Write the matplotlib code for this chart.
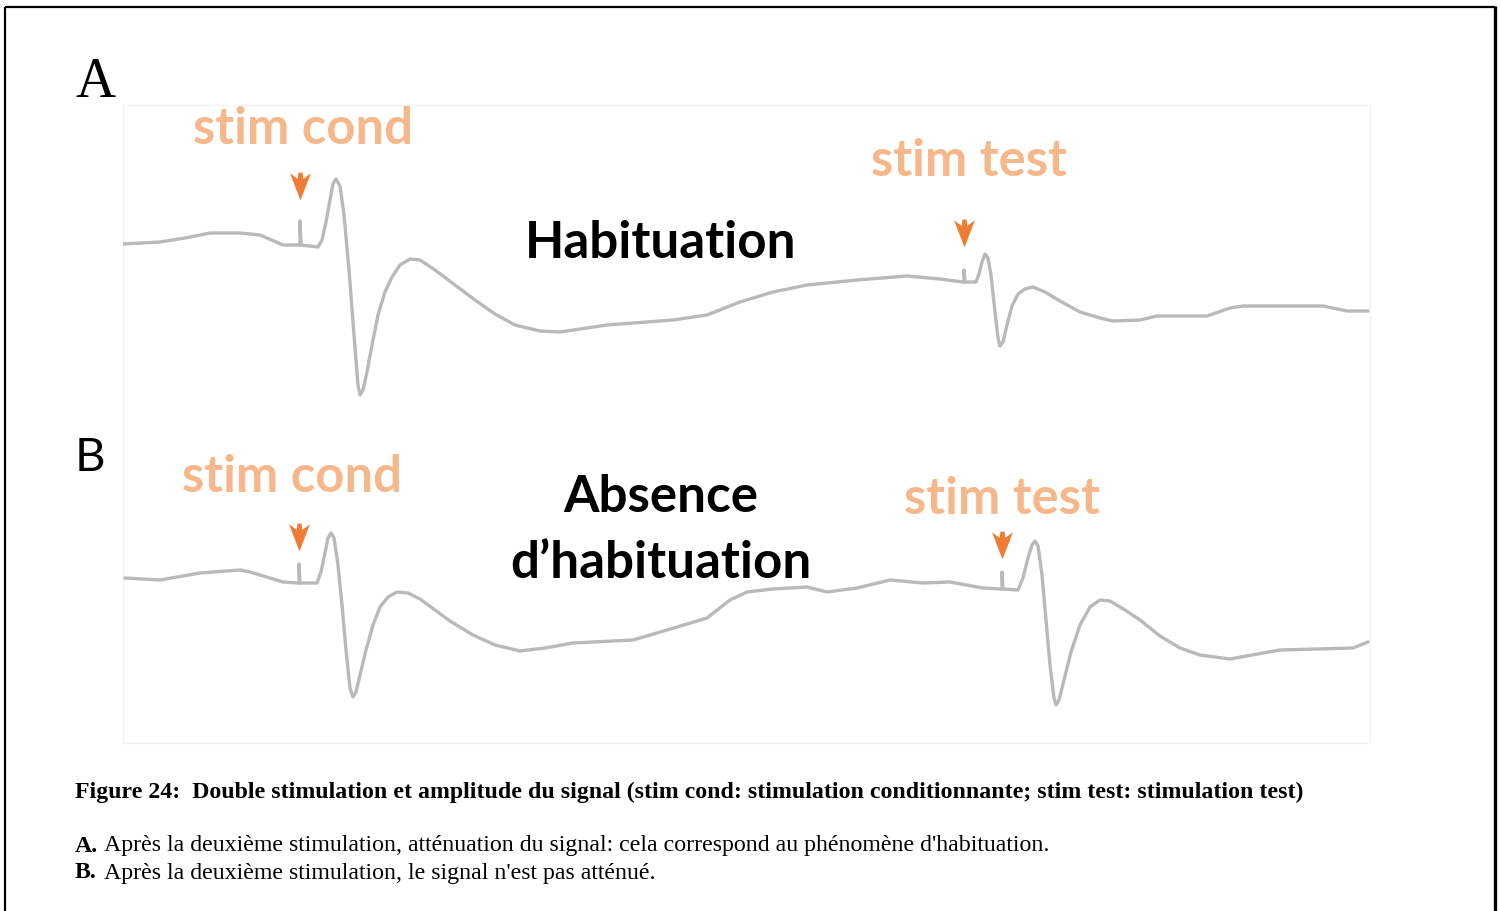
import matplotlib
matplotlib.use("Agg")
import matplotlib.pyplot as plt
from matplotlib.patches import Rectangle

# ---------------- data (time in ms, amplitude in arbitrary units) ----------------
t_A = [0, 3.7, 6.2, 8.7, 11.7, 13.7, 16.0, 17.6, 17.7, 17.7, 17.8, 19.5, 19.9, 20.3,
       20.7, 21.0, 21.3, 21.7, 22.1, 22.6, 23.1, 23.5, 23.7, 24.0, 24.4, 24.9, 25.5,
       26.2, 26.9, 27.7, 28.7, 29.7, 31.2, 33.2, 35.2, 37.2, 39.2, 41.7, 43.7, 48.4,
       55.0, 58.4, 61.7, 65.0, 68.4, 73.4, 78.4, 81.7, 84.0, 84.1, 84.1, 84.2, 85.3,
       85.6, 85.9, 86.2, 86.5, 86.8, 87.2, 87.5, 87.7, 88.0, 88.4, 88.9, 89.5, 90.2,
       91.0, 92.2, 93.7, 95.7, 97.7, 99.0, 101.7, 103.4, 108.4, 110.7, 112.0, 120.0,
       122.4, 124.5]
v_A = [0, 0.2, 0.6, 1.1, 1.1, 0.9, -0.1, -0.1, -0.1, 2.3, -0.1, -0.3, 0.4, 2.2,
       4.4, 6.0, 6.5, 5.8, 2.9, -2.6, -9.1, -14.1, -15.1, -14.6, -12.8, -10.1, -7.1,
       -4.8, -3.3, -2.1, -1.5, -1.6, -2.6, -4.1, -5.6, -7.0, -8.1, -8.7, -8.8, -8.1,
       -7.6, -7.1, -5.8, -4.8, -4.1, -3.6, -3.2, -3.5, -3.8, -3.8, -2.6, -3.8, -3.8,
       -3.0, -1.8, -1.0, -1.4, -3.1, -6.8, -9.4, -10.2, -9.8, -8.1, -6.2, -5.0, -4.5,
       -4.3, -4.8, -5.7, -6.8, -7.4, -7.7, -7.6, -7.2, -7.2, -6.4, -6.2, -6.2,
       -6.7, -6.7]

t_B = [0.2, 3.7, 7.7, 11.7, 12.7, 16.0, 17.5, 17.6, 17.6, 17.7, 19.4, 19.8, 20.2,
       20.5, 20.8, 21.1, 21.5, 21.9, 22.3, 22.7, 23.0, 23.3, 23.7, 24.3, 25.0, 25.7,
       26.5, 27.4, 28.5, 29.7, 31.2, 32.7, 35.0, 37.2, 39.7, 42.2, 45.0, 51.0, 53.4,
       58.4, 60.7, 62.4, 65.0, 68.4, 70.4, 73.4, 76.7, 80.0, 82.7, 86.0, 87.8, 87.9,
       87.9, 88.0, 89.5, 90.0, 90.5, 90.9, 91.2, 91.5, 91.9, 92.3, 92.7, 93.1, 93.3,
       93.6, 94.1, 94.8, 95.7, 96.7, 97.7, 98.7, 100.2, 101.7, 103.7, 105.7, 107.7,
       110.7, 115.7, 123.0, 124.5]
v_B = [0.2, 0.0, 0.7, 1.0, 0.8, -0.2, -0.3, -0.3, 1.6, -0.3, -0.3, 0.8, 2.7,
       4.2, 4.7, 4.2, 1.5, -2.5, -7.0, -10.8, -11.7, -11.2, -9.5, -7.0, -4.5, -2.7,
       -1.7, -1.2, -1.3, -1.9, -3.0, -4.1, -5.5, -6.5, -7.1, -6.8, -6.3, -6.0, -5.3,
       -3.8, -2.0, -1.2, -0.9, -0.7, -1.2, -0.8, 0.0, -0.3, -0.2, -0.8, -0.9, -0.9,
       0.8, -0.9, -1.0, 0.2, 2.2, 3.5, 3.9, 3.4, 0.5, -4.0, -8.5, -11.8, -12.5,
       -12.0, -10.0, -7.2, -4.5, -2.7, -2.0, -2.1, -3.0, -4.0, -5.6, -6.8, -7.5,
       -7.9, -7.0, -6.8, -6.2]

stim_t_A = [17.7, 84.1]
stim_v_A = [5.8, 1.1]
stim_t_B = [17.6, 87.9]
stim_v_B = [4.3, 3.5]

panel_labels = ["A", "B"]
stim_labels = ["stim cond", "stim test"]
caption_title = ("Figure 24:  Double stimulation et amplitude du signal (stim cond: "
                 "stimulation conditionnante; stim test: stimulation test)")
caption_A = "Après la deuxième stimulation, atténuation du signal: cela correspond au phénomène d'habituation."
caption_B = "Après la deuxième stimulation, le signal n'est pas atténué."

# ---------------- styling ----------------
W, H = 1501, 911
TRACE = "#B9B9B9"
PEACH = "#F6B88A"
ORANGE = "#EF7B35"
SANS = "Lato"
SERIF = "Liberation Serif"
STIM_FS = 36.5
BIG_FS = 36.8
CAP_FS = 17.2

arrow_marker = [(-0.75, 0.95), (-0.2, 0.55), (-0.15, 1.0), (0.15, 1.0), (0.2, 0.55),
                (0.75, 0.95), (0.0, -1.0), (-0.75, 0.95)]

fig = plt.figure(figsize=(W / 100, H / 100), dpi=100)
fig.patch.set_facecolor("white")

ax0 = fig.add_axes([0, 0, 1, 1])
ax0.set_xlim(0, W)
ax0.set_ylim(H, 0)
ax0.axis("off")

# outer frame (bottom edge outside the picture)
ax0.plot([5, 5], [920, 7], color="black", lw=1.6, solid_capstyle="butt")
ax0.plot([4.5, 1495], [7, 7], color="black", lw=1.6, solid_capstyle="butt")
ax0.plot([1495, 1495], [6, 920], color="black", lw=2.4, solid_capstyle="butt")

# faint image box
ax0.add_patch(Rectangle((123, 105), 1247, 638, fill=False, edgecolor="#F3F3F3", lw=1))


def panel_axes(top_px, bottom_px):
    return fig.add_axes([123 / W, 1 - bottom_px / H, 1247 / W, (bottom_px - top_px) / H])


line_kw = dict(color=TRACE, lw=2.4, solid_joinstyle="round", solid_capstyle="round")
arrow_kw = dict(ls="none", marker=arrow_marker, markersize=20, color=ORANGE, markeredgewidth=0)

# Panel A
axA = panel_axes(105, 430)
axA.set_xlim(0, 124.7)
axA.set_ylim(-18.6, 13.9)
axA.axis("off")
axA.plot(t_A, v_A, **line_kw)
axA.plot(stim_t_A, stim_v_A, **arrow_kw)

# Panel B
axB = panel_axes(430, 743)
axB.set_xlim(0, 124.7)
axB.set_ylim(-16.3, 15.0)
axB.axis("off")
axB.plot(t_B, v_B, **line_kw)
axB.plot(stim_t_B, stim_v_B, **arrow_kw)

# texts
ax0.text(76, 83, panel_labels[0], family=SERIF, fontsize=40, va="center", ha="left", color="black")
ax0.text(75, 458, panel_labels[1], family=SANS, fontsize=34, va="center", ha="left", color="black")

ax0.text(193, 129, stim_labels[0], family=SANS, fontweight="bold", fontsize=STIM_FS,
         color=PEACH, va="center", ha="left")
ax0.text(871, 162, stim_labels[1], family=SANS, fontweight="bold", fontsize=STIM_FS,
         color=PEACH, va="center", ha="left")
ax0.text(661, 243, "Habituation", family=SANS, fontweight="bold", fontsize=BIG_FS,
         color="black", va="center", ha="center")

ax0.text(182, 478, stim_labels[0], family=SANS, fontweight="bold", fontsize=STIM_FS,
         color=PEACH, va="center", ha="left")
ax0.text(904, 499, stim_labels[1], family=SANS, fontweight="bold", fontsize=STIM_FS,
         color=PEACH, va="center", ha="left")
ax0.text(661, 498, "Absence", family=SANS, fontweight="bold", fontsize=BIG_FS,
         color="black", va="center", ha="center")
ax0.text(661, 563, "d\u2019habituation", family=SANS, fontweight="bold", fontsize=BIG_FS,
         color="black", va="center", ha="center")

ax0.text(75, 792, caption_title, family=SERIF, fontweight="bold", fontsize=CAP_FS,
         va="center", ha="left", color="black")
ax0.text(75, 846, "A.", family=SERIF, fontweight="bold", fontsize=CAP_FS, va="center", ha="left")
ax0.text(104, 846, caption_A, family=SERIF, fontsize=CAP_FS, va="center", ha="left")
ax0.text(75, 873, "B.", family=SERIF, fontweight="bold", fontsize=CAP_FS, va="center", ha="left")
ax0.text(104, 873, caption_B, family=SERIF, fontsize=CAP_FS, va="center", ha="left")

fig.savefig("out.png", dpi=100, facecolor="white")
